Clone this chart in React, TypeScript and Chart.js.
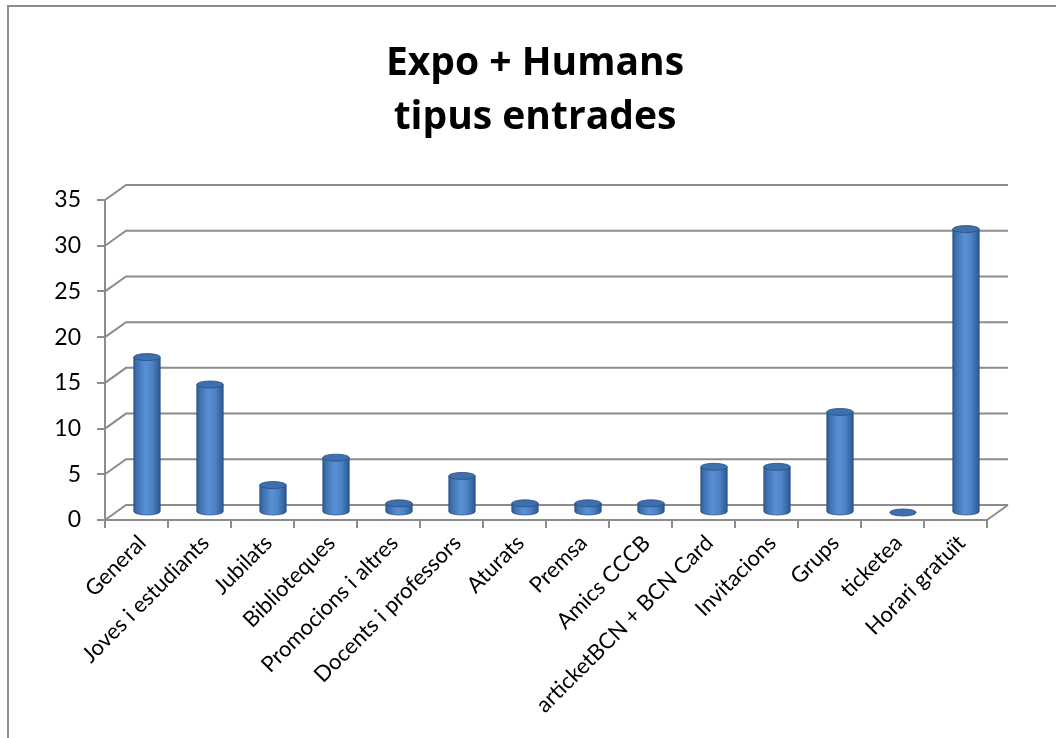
import React, { useEffect, useRef } from "react";
import { Chart, registerables } from "chart.js";

Chart.register(...registerables);

const titleLines = ["Expo + Humans", "tipus entrades"];
const categories = [
  "General",
  "Joves i estudiants",
  "Jubilats",
  "Biblioteques",
  "Promocions i altres",
  "Docents i professors",
  "Aturats",
  "Premsa",
  "Amics CCCB",
  "articketBCN + BCN Card",
  "Invitacions",
  "Grups",
  "ticketea",
  "Horari gratuït",
];
const values = [17, 14, 3, 6, 1, 4, 1, 1, 1, 5, 5, 11, 0, 31];
const yMin = 0;
const yMax = 35;
const yStep = 5;

const DX = 21;
const DY = -15;
const GRID = "#8c8c8c";

const wallPlugin = {
  id: "wall3d",
  beforeDatasetsDraw(chart: any) {
    const { ctx, chartArea, scales } = chart;
    const y = scales.y;
    ctx.save();
    ctx.strokeStyle = GRID;
    ctx.lineWidth = 2;
    ctx.lineCap = "butt";
    for (let v = yMin; v <= yMax; v += yStep) {
      const py = y.getPixelForValue(v);
      ctx.beginPath();
      ctx.moveTo(chartArea.left, py);
      ctx.lineTo(chartArea.left + DX, py + DY);
      ctx.lineTo(chartArea.right + DX, py + DY);
      ctx.stroke();
    }
    ctx.beginPath();
    ctx.moveTo(chartArea.right, chartArea.bottom);
    ctx.lineTo(chartArea.right + DX, chartArea.bottom + DY);
    ctx.stroke();
    ctx.restore();
  },
  afterDatasetsDraw(chart: any) {
    const { ctx } = chart;
    const meta = chart.getDatasetMeta(0);
    ctx.save();
    meta.data.forEach((bar: any) => {
      const cx = bar.x + DX / 2;
      const top = bar.y + DY / 2;
      const base = bar.base + DY / 2;
      const rx = bar.width / 2;
      const ry = 3.5;
      const g = ctx.createLinearGradient(cx - rx, 0, cx + rx, 0);
      g.addColorStop(0, "#2d5b94");
      g.addColorStop(0.12, "#3f70b0");
      g.addColorStop(0.45, "#5b90d4");
      g.addColorStop(0.7, "#4d82c6");
      g.addColorStop(1, "#2c5990");
      if (base - top > 0.5) {
        ctx.beginPath();
        ctx.moveTo(cx - rx, top);
        ctx.lineTo(cx - rx, base);
        ctx.ellipse(cx, base, rx, ry, 0, Math.PI, 0, true);
        ctx.lineTo(cx + rx, top);
        ctx.closePath();
        ctx.fillStyle = g;
        ctx.fill();
        ctx.strokeStyle = "rgba(40,80,130,0.7)";
        ctx.lineWidth = 1;
        ctx.stroke();
      }
      ctx.beginPath();
      ctx.ellipse(cx, top, rx, ry, 0, 0, Math.PI * 2);
      ctx.fillStyle = "#3e6fae";
      ctx.fill();
      ctx.strokeStyle = "rgba(40,80,130,0.8)";
      ctx.lineWidth = 1;
      ctx.stroke();
    });
    ctx.restore();
  },
};

export default function App() {
  const ref = useRef<HTMLCanvasElement | null>(null);
  useEffect(() => {
    if (!ref.current) return;
    const chart = new Chart(ref.current, {
      type: "bar",
      data: {
        labels: categories,
        datasets: [
          {
            data: values,
            backgroundColor: "rgba(0,0,0,0)",
            borderWidth: 0,
            barPercentage: 0.42,
            categoryPercentage: 1,
          },
        ],
      },
      options: {
        responsive: false,
        animation: false,
        layout: { padding: { left: 0, right: 69, top: 193, bottom: 0 } },
        plugins: {
          legend: { display: false },
          tooltip: { enabled: false },
          title: { display: false },
        },
        scales: {
          x: {
            grid: {
              offset: true,
              drawOnChartArea: false,
              drawTicks: true,
              tickLength: 8,
              color: GRID,
              lineWidth: 2,
            },
            border: { display: true, color: GRID, width: 2 },
            ticks: {
              autoSkip: false,
              minRotation: 45,
              maxRotation: 45,
              color: "#000",
              font: { family: "Lato", size: 22 },
              padding: 2,
              labelOffset: 6,
            },
            afterFit(scale: any) {
              scale.height = 218;
            },
          },
          y: {
            min: yMin,
            max: yMax,
            grid: {
              drawOnChartArea: false,
              drawTicks: true,
              tickLength: 8,
              color: GRID,
              lineWidth: 2,
            },
            border: { display: true, color: GRID, width: 2 },
            ticks: {
              stepSize: yStep,
              color: "#000",
              font: { family: "Lato", size: 23 },
              padding: 16,
            },
            afterFit(scale: any) {
              scale.width = 96;
            },
          },
        },
      },
      plugins: [wallPlugin],
    } as any);
    return () => chart.destroy();
  }, []);

  return (
    <div
      style={{
        position: "fixed",
        left: 0,
        top: 0,
        width: 1056,
        height: 738,
        overflow: "hidden",
        background: "#fff",
      }}
    >
      <div
        style={{
          position: "absolute",
          left: 7,
          top: 5,
          width: 1100,
          height: 800,
          borderLeft: "2px solid #8c8c8c",
          borderTop: "2px solid #8c8c8c",
        }}
      >
        <canvas ref={ref} width={1047} height={731} style={{ display: "block" }} />
      </div>
      <div
        style={{
          position: "absolute",
          left: 0,
          top: 33,
          width: 1070,
          textAlign: "center",
          fontFamily: "'Open Sans', sans-serif",
          fontWeight: 700,
          fontSize: 39,
          lineHeight: "54px",
          color: "#000",
        }}
      >
        {titleLines.map((t) => (
          <div key={t}>{t}</div>
        ))}
      </div>
    </div>
  );
}
